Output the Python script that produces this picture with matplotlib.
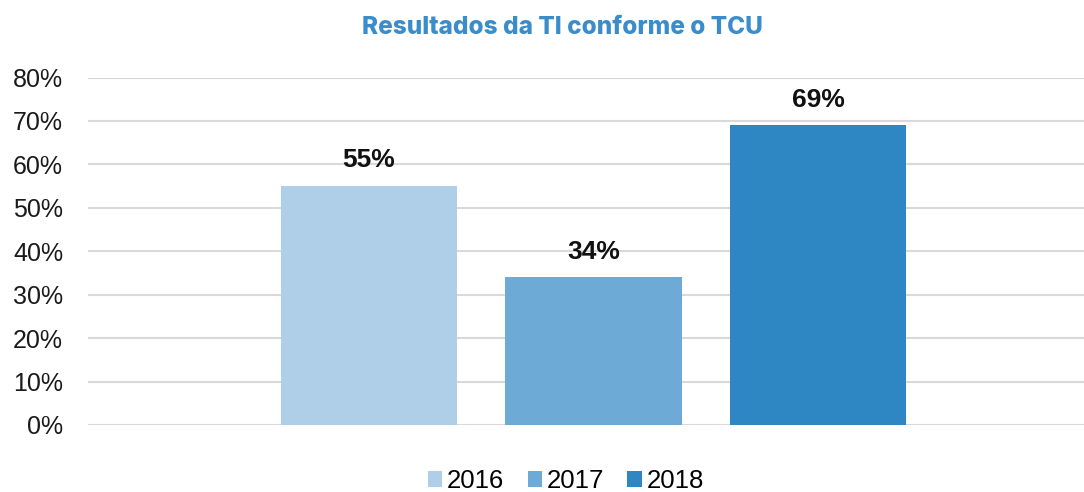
import matplotlib
matplotlib.use("Agg")
import matplotlib.pyplot as plt
from matplotlib.patches import Patch
from matplotlib.ticker import PercentFormatter

# Data
years = ["2016", "2017", "2018"]
values = [0.55, 0.34, 0.69]
colors = ["#AFCFE9", "#6DAAD6", "#2E87C3"]
yticks = [0.0, 0.1, 0.2, 0.3, 0.4, 0.5, 0.6, 0.7, 0.8]
title = "Resultados da TI conforme o TCU"

W, H = 1084, 492
fig = plt.figure(figsize=(W / 100, H / 100), dpi=100)
fig.patch.set_facecolor("white")

# plot area (pixel box converted to figure fractions)
ax_left, ax_right, ax_top, ax_bottom = 88, 1084, 77.5, 425
ax = fig.add_axes([ax_left / W, 1 - ax_bottom / H,
                   (ax_right - ax_left) / W, (ax_bottom - ax_top) / H])

bar_w = 0.786
step = 1.0
offsets = [(i - (len(years) - 1) / 2) * step for i in range(len(years))]
for off, v, c, yr in zip(offsets, values, colors, years):
    ax.bar(off, v, width=bar_w, color=c, zorder=3, label=yr)
    ax.annotate(f"{round(v * 100)}%", (off, v), xytext=(0, 13.5),
                textcoords="offset points", ha="center", va="baseline",
                fontsize=19, fontweight="bold", color="#111111",
                family="Liberation Sans", zorder=4)

ax.set_xlim(-2.252, 2.185)
ax.set_ylim(0, 0.8)
ax.set_yticks(yticks)
ax.yaxis.set_major_formatter(PercentFormatter(1.0, decimals=0))
ax.set_xticks([])
ax.tick_params(axis="y", length=0, pad=18, labelsize=18, labelcolor="#1a1a1a")
for lab in ax.get_yticklabels():
    lab.set_family("Liberation Sans")
ax.grid(axis="y", color="#D9D9D9", linewidth=1.5, zorder=0)
for s in ax.spines.values():
    s.set_visible(False)

fig.text(562 / W, 1 - 27 / H, title, ha="center", va="center",
         fontsize=17.5, fontweight="heavy", color="#3A8DCA", family="Inter")

handles = [Patch(facecolor=c, edgecolor="none", label=y) for c, y in zip(colors, years)]
fig.legend(handles=handles, loc="center", bbox_to_anchor=(566 / W, 1 - 481 / H),
           ncol=3, frameon=False, prop={"family": "Liberation Sans", "size": 18.5},
           handlelength=0.55, handleheight=0.55, handletextpad=0.2,
           columnspacing=0.9, borderpad=0)

fig.savefig("out.png", dpi=100, facecolor="white")
